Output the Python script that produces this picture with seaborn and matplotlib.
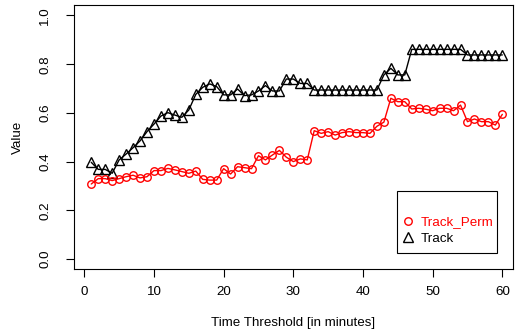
import numpy as np
import pandas as pd
import matplotlib
matplotlib.use("Agg")
import matplotlib.pyplot as plt
import seaborn as sns
from matplotlib.lines import Line2D
from matplotlib.patches import Rectangle

minutes = list(range(1, 61))
track_perm = [0.308, 0.330, 0.330, 0.322, 0.330, 0.338, 0.344, 0.333, 0.338, 0.363,
              0.363, 0.372, 0.366, 0.359, 0.352, 0.361, 0.327, 0.324, 0.324, 0.371,
              0.349, 0.379, 0.375, 0.371, 0.424, 0.407, 0.427, 0.446, 0.418, 0.400,
              0.411, 0.407, 0.527, 0.516, 0.523, 0.509, 0.519, 0.523, 0.519, 0.519,
              0.516, 0.545, 0.562, 0.660, 0.646, 0.646, 0.616, 0.619, 0.615, 0.609,
              0.619, 0.619, 0.609, 0.632, 0.564, 0.575, 0.564, 0.564, 0.550, 0.594]
track = [0.397, 0.368, 0.368, 0.352, 0.407, 0.431, 0.457, 0.485, 0.523, 0.554,
         0.587, 0.601, 0.591, 0.582, 0.612, 0.676, 0.705, 0.719, 0.708, 0.674,
         0.674, 0.698, 0.671, 0.674, 0.690, 0.712, 0.690, 0.690, 0.739, 0.739,
         0.721, 0.721, 0.694, 0.694, 0.694, 0.694, 0.694, 0.694, 0.694, 0.694,
         0.694, 0.694, 0.756, 0.783, 0.756, 0.756, 0.861, 0.861, 0.861, 0.861,
         0.861, 0.861, 0.861, 0.861, 0.838, 0.838, 0.838, 0.838, 0.838, 0.838]
series_names = ["Track_Perm", "Track"]
series_colors = ["#FF0000", "#000000"]
x_ticks = [0, 10, 20, 30, 40, 50, 60]
y_ticks = [0.0, 0.2, 0.4, 0.6, 0.8, 1.0]
y_tick_labels = ["0.0", "0.2", "0.4", "0.6", "0.8", "1.0"]

sns.set_theme(style="white")
plt.rcParams['font.family'] = ['Liberation Sans', 'DejaVu Sans']

FS = 9.6
W, H = 528, 333
fig = plt.figure(figsize=(W / 100, H / 100), dpi=100)
L, R, T, B = 74, 513, 5, 269
ax = fig.add_axes([L / W, (H - B) / H, (R - L) / W, (B - T) / H])

df = pd.DataFrame({"minutes": minutes, "Track_Perm": track_perm, "Track": track})

sns.lineplot(data=df, x="minutes", y="Track", ax=ax, color=series_colors[1],
             marker="^", markersize=6.5, markerfacecolor="none",
             markeredgecolor=series_colors[1], markeredgewidth=1.0, linewidth=1.0)
sns.lineplot(data=df, x="minutes", y="Track_Perm", ax=ax, color=series_colors[0],
             marker="o", markersize=5.4, markerfacecolor="none",
             markeredgecolor=series_colors[0], markeredgewidth=1.0, linewidth=1.0)

ax.set_xlim((L - 84.3) / 6.967, (R - 84.3) / 6.967)
ax.set_ylim((259 - B) / 243.5, (259 - T) / 243.5)
ax.set_xticks(x_ticks)
ax.set_xticklabels([str(v) for v in x_ticks])
ax.set_yticks(y_ticks)
ax.set_yticklabels(y_tick_labels, rotation=90, va="center")

for s in ax.spines.values():
    s.set_color("black")
    s.set_linewidth(0.8)

ax.tick_params(axis="both", which="both", direction="out", length=5.5, width=0.8,
               color="black", labelsize=FS, labelcolor="black")
ax.tick_params(axis="x", bottom=True, pad=6.5)
ax.tick_params(axis="y", left=True, pad=11)

ax.set_xlabel("Time Threshold [in minutes]", fontsize=FS, color="black", va="center")
ax.set_ylabel("Value", fontsize=FS, color="black", va="center")
ax.xaxis.set_label_coords(0.5, (B - 323) / (B - T))
ax.yaxis.set_label_coords((18 - L) / (R - L), 0.5)
ax.grid(False)

# legend box
lx0, lx1, ly0, ly1 = 397, 497, 191, 253
ax.add_patch(Rectangle(((lx0 - L) / (R - L), (B - ly1) / (B - T)),
                       (lx1 - lx0) / (R - L), (ly1 - ly0) / (B - T),
                       transform=ax.transAxes, facecolor="white", edgecolor="black",
                       linewidth=0.8, zorder=5))
handles = [Line2D([], [], linestyle="none", marker="o", markersize=5.4,
                  markerfacecolor="none", markeredgecolor=series_colors[0], markeredgewidth=1.0),
           Line2D([], [], linestyle="none", marker="^", markersize=6.5,
                  markerfacecolor="none", markeredgecolor=series_colors[1], markeredgewidth=1.0)]
leg = ax.legend(handles, series_names, frameon=False, fontsize=FS,
                loc="upper left",
                bbox_to_anchor=((lx0 + 4 - L) / (R - L), (B - 216) / (B - T)),
                handlelength=1.0, handletextpad=0.45, labelspacing=0.32,
                borderpad=0.0, borderaxespad=0.0)
leg.set_zorder(6)
for t, c in zip(leg.get_texts(), series_colors):
    t.set_color(c)

fig.savefig("out.png", dpi=100)
